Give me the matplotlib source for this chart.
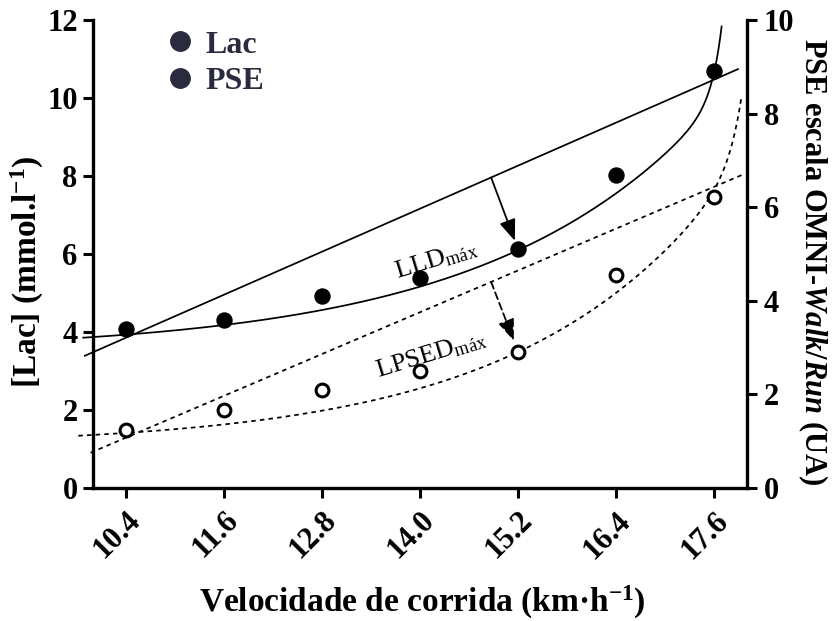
import numpy as np
import matplotlib
matplotlib.use("Agg")
import matplotlib.pyplot as plt
from matplotlib.lines import Line2D

# ---- data -------------------------------------------------------------
speeds = [10.4, 11.6, 12.8, 14.0, 15.2, 16.4, 17.6]
speed_labels = ["10.4", "11.6", "12.8", "14.0", "15.2", "16.4", "17.6"]
lac = [4.08, 4.31, 4.92, 5.39, 6.12, 8.03, 10.68]      # [Lac] mmol/l
pse = [1.24, 1.67, 2.09, 2.49, 2.91, 4.55, 6.22]       # PSE (OMNI scale)

lac_ticks = [0, 2, 4, 6, 8, 10, 12]
pse_ticks = [0, 2, 4, 6, 8, 10]

# fitted curves: y = a + b*exp(c*(x-10)) + d*exp(k*(x-xk))
lac_fit = dict(a=3.489, b=0.381, c=0.37, d=1.944, k=8.28, xk=17.70)
lac_fit_range = (9.88, 17.69)
pse_fit = dict(a=0.8875, b=0.2458, c=0.405, d=2.125, k=6.59, xk=18.0)
pse_fit_range = (9.82, 17.93)

# Dmax chords (first to last point of each fit)
lac_chord_x = [9.90, 17.89]
lac_chord_y = [3.39, 10.74]
pse_chord_x = [9.97, 17.98]
pse_chord_y = [0.753, 6.72]

dmax_x = 14.87      # where the arrows leave the chords
dmax_idx = 4        # stage reached by the arrows (15.2 km/h)


def fit_curve(x, p):
    return (p["a"] + p["b"] * np.exp(p["c"] * (x - 10.0))
            + p["d"] * np.exp(p["k"] * (x - p["xk"])))


# ---- style ------------------------------------------------------------
plt.rcParams["font.family"] = ["Liberation Serif", "DejaVu Serif"]
plt.rcParams["font.weight"] = "bold"
plt.rcParams["mathtext.fontset"] = "custom"
plt.rcParams["mathtext.rm"] = "Liberation Serif:bold"
plt.rcParams["mathtext.bf"] = "Liberation Serif:bold"
plt.rcParams["mathtext.it"] = "Liberation Serif:italic:bold"
plt.rcParams["mathtext.sf"] = "Liberation Serif:weight=normal"

fig = plt.figure(figsize=(8.32, 6.21), dpi=100)
ax = fig.add_axes([0.1118, 0.2142, 0.786, 0.7536])
ax2 = ax.twinx()

ax.set_xlim(10.0, 18.0)
ax.set_ylim(0, 12)
ax2.set_ylim(0, 10)

lw_curve = 1.25
dots = (0, (2.6, 2.4))

# Lac: fitted curve, chord, points
xs = np.linspace(*lac_fit_range, 400)
ax.plot(xs, fit_curve(xs, lac_fit), color="black", lw=lw_curve, clip_on=False)
ax.plot(lac_chord_x, lac_chord_y, color="black", lw=lw_curve, clip_on=False)
ax.plot(speeds, lac, "o", color="black", ms=10.8, zorder=5)

# PSE: fitted curve, chord, points (right axis)
xs = np.linspace(*pse_fit_range, 400)
ax2.plot(xs, fit_curve(xs, pse_fit), color="black", lw=lw_curve,
         ls=dots, clip_on=False)
ax2.plot(pse_chord_x, pse_chord_y, color="black", lw=lw_curve, ls=dots,
         clip_on=False)
ax2.plot(speeds, pse, "o", mfc="white", mec="black", mew=2.2, ms=9.2,
         zorder=5)

# Dmax arrows
head = "-|>,head_length=0.65,head_width=0.25"
ax.annotate("", xy=(speeds[dmax_idx], lac[dmax_idx]),
            xytext=(dmax_x, np.interp(dmax_x, lac_chord_x, lac_chord_y)),
            arrowprops=dict(arrowstyle=head, mutation_scale=20,
                            color="black", lw=1.3, shrinkA=0, shrinkB=6.5))
ax2.annotate("", xy=(speeds[dmax_idx], pse[dmax_idx]),
             xytext=(dmax_x, np.interp(dmax_x, pse_chord_x, pse_chord_y)),
             arrowprops=dict(arrowstyle=head, mutation_scale=20,
                             color="black", lw=1.3, ls=(0, (4, 2.2)),
                             shrinkA=0, shrinkB=8.5))

ax.text(14.2, 5.86, r"LLD$_{\mathsf{máx}}$", rotation=17, ha="center",
        va="center", rotation_mode="anchor", fontsize=19,
        fontweight="normal")
ax.text(14.13, 3.42, r"LPSED$_{\mathsf{máx}}$", rotation=17, ha="center",
        va="center", rotation_mode="anchor", fontsize=19,
        fontweight="normal")

# ---- axes -------------------------------------------------------------
for s in ("top", "right"):
    ax.spines[s].set_visible(False)
for s in ("top", "left", "bottom"):
    ax2.spines[s].set_visible(False)
for s in ("left", "bottom"):
    ax.spines[s].set_linewidth(2.4)
ax2.spines["right"].set_linewidth(2.4)

ax.set_xticks(speeds)
ax.set_xticklabels(speed_labels, rotation=45, ha="right", va="top",
                   rotation_mode="anchor")
ax.set_yticks(lac_ticks)
ax2.set_yticks(pse_ticks)
ax.tick_params(axis="both", labelsize=22, width=2.2, length=7, pad=4)
ax.tick_params(axis="x", pad=6)
ax2.tick_params(axis="y", labelsize=22, width=2.2, length=7, pad=5)

ax.text(-0.101, 0.462, r"[Lac] (mmol.l$^{-1}$)", transform=ax.transAxes,
        rotation=90, ha="center", va="center", fontsize=24)
ax.text(1.101, 0.483, r"PSE escala OMNI-$\mathit{Walk/Run}$ (UA)",
        transform=ax.transAxes, rotation=-90, ha="center", va="center",
        fontsize=22)
ax.text(0.503, -0.205, r"Velocidade de corrida (km·h$^{-1}$)",
        transform=ax.transAxes, ha="center", va="top", fontsize=24)

# legend
legend_color = "#2b2b40"
handles = [Line2D([], [], marker="o", ls="none", color=legend_color,
                  markersize=14, label="Lac"),
           Line2D([], [], marker="o", ls="none", color=legend_color,
                  markersize=14, label="PSE")]
ax2.legend(handles=handles, loc="upper left", bbox_to_anchor=(0.1086, 0.978),
           frameon=False, borderpad=0, borderaxespad=0, handlelength=1.0,
           handletextpad=0.3, labelspacing=0.22, fontsize=23,
           labelcolor=legend_color)

fig.savefig("out.png", dpi=100)
